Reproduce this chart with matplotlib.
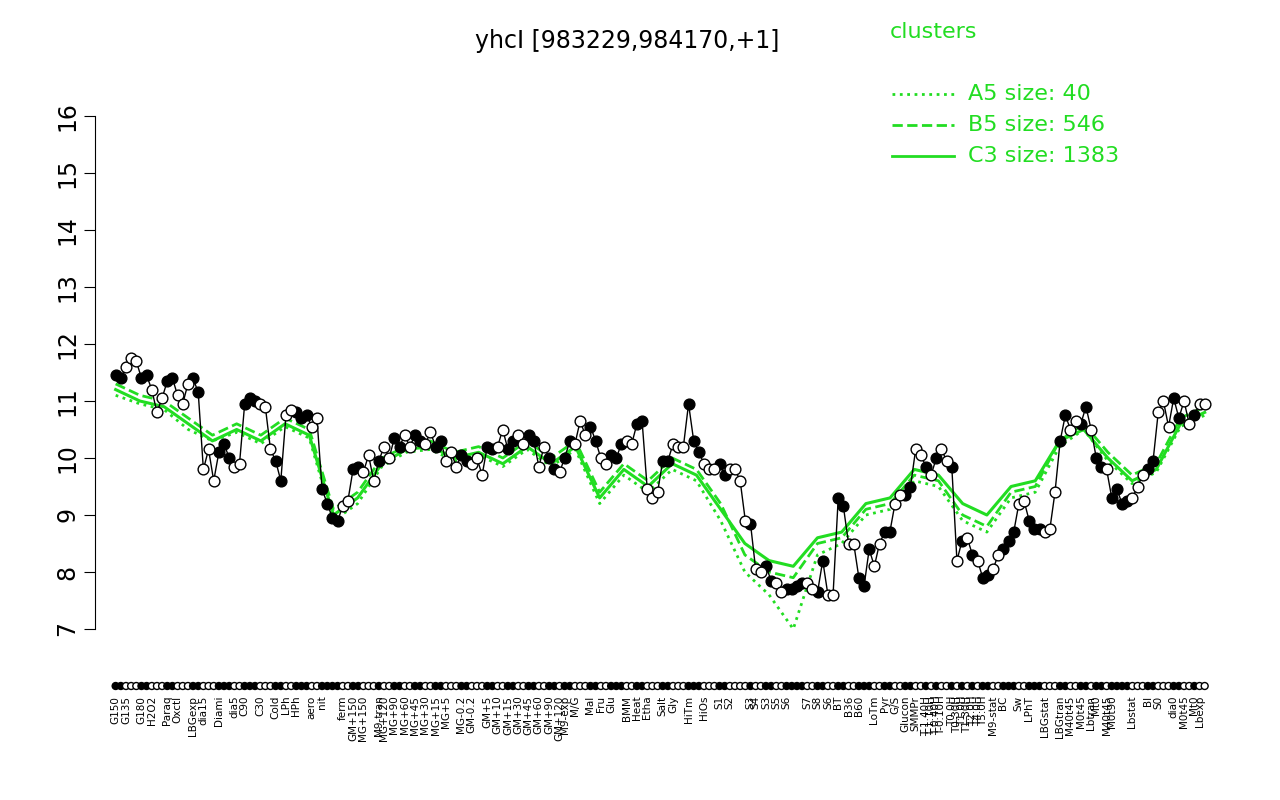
import numpy as np
import matplotlib.pyplot as plt

# (label, value) along the x axis; '' = no tick label
pts = [
("G150",11.45),("",11.4),("G135",11.6),("",11.75),("",11.7),("G180",11.4),("",11.45),
("H2O2",11.2),("",10.8),("",11.05),("Paraq",11.35),("",11.4),("Oxctl",11.1),("",10.95),
("",11.3),("LBGexp",11.4),("",11.15),("dia15",9.8),("",10.15),("",9.6),("Diami",10.1),
("",10.25),("",10.0),("dia5",9.85),("",9.9),("C90",10.95),("",11.05),("",11.0),
("C30",10.95),("",10.9),("",10.15),("Cold",9.95),("",9.6),("LPh",10.75),("",10.85),
("HPh",10.8),("",10.7),("",10.75),("aero",10.55),("",10.7),("nit",9.45),("",9.2),
("",8.95),("",8.9),("ferm",9.15),("",9.25),("GM+150",9.8),("",9.85),("MG+150",9.75),
("",10.05),("",9.6),("M9-tran",9.95),("MG+120",10.2),("",10.0),("MG+90",10.35),
("",10.2),("MG+60",10.4),("",10.2),("MG+45",10.4),("",10.3),("MG+30",10.25),("",10.45),
("MG+15",10.2),("",10.3),("MG+5",9.95),("",10.1),("",9.85),("MG-0.2",10.05),("",9.95),
("GM-0.2",9.9),("",10.0),("",9.7),("GM+5",10.2),("",10.15),("GM+10",10.2),("",10.5),
("GM+15",10.15),("",10.3),("GM+30",10.4),("",10.25),("GM+45",10.4),("",10.3),
("GM+60",9.85),("",10.2),("GM+90",10.0),("",9.8),("GM+120",9.75),("M9-exp",10.0),
("",10.3),("M/G",10.25),("",10.65),("",10.4),("Mal",10.55),("",10.3),("Fru",10.0),
("",9.9),("Glu",10.05),("",10.0),("",10.25),("BMM",10.3),("",10.25),("Heat",10.6),
("",10.65),("Etha",9.45),("",9.3),("",9.4),("Salt",9.95),("",9.95),("Gly",10.25),
("",10.2),("",10.2),("HiTm",10.95),("",10.3),("",10.1),("HiOs",9.9),("",9.8),("",9.8),
("S1",9.9),("",9.7),("S2",9.8),("",9.8),("",9.6),("",8.9),("S3",8.85),("S4",8.05),
("",8.0),("S3",8.1),("",7.85),("S5",7.8),("",7.65),("S6",7.7),("",7.7),("",7.75),
("",7.8),("S7",7.8),("",7.7),("S8",7.65),("",8.2),("S6",7.6),("",7.6),("BT",9.3),
("",9.15),("B36",8.5),("",8.5),("B60",7.9),("",7.75),("",8.4),("LoTm",8.1),("",8.5),
("Pyr",8.7),("",8.7),("G/S",9.2),("",9.35),("Glucon",9.35),("",9.5),("SMMPr",10.15),
("",10.05),("T-1.40H",9.85),("T-1.10H",9.7),("T-0.40H",10.0),("T-0.10H",10.15),
("",9.95),("T0.0H",9.85),("T0.30H",8.2),("T1.0H",8.55),("T1.30H",8.6),("T2.0H",8.3),
("T4.0H",8.2),("T5.0H",7.9),("",7.95),("M9-stat",8.05),("",8.3),("BC",8.4),("",8.55),
("",8.7),("Sw",9.2),("",9.25),("LPhT",8.9),("",8.75),("",8.75),("LBGstat",8.7),
("",8.75),("",9.4),("LBGtran",10.3),("",10.75),("M40t45",10.5),("",10.65),
("M0t45",10.6),("",10.9),("Lbtran",10.5),("Mt0",10.0),("",9.85),("M40t45",9.8),
("M0t90",9.3),("",9.45),("",9.2),("",9.25),("Lbstat",9.3),("",9.5),("",9.7),
("BI",9.8),("",9.95),("S0",10.8),("",11.0),("",10.55),("dia0",11.05),("",10.7),
("M0t45",11.0),("",10.6),("Mt0",10.75),("Lbexp",10.95),("",10.95),
]
labels = [p[0] for p in pts]
vals = [p[1] for p in pts]

# cluster means, sampled at evenly spaced fractions of the x range
c3 = [11.2,11.0,10.9,10.6,10.3,10.5,10.3,10.6,10.4,9.0,9.3,9.9,10.15,10.2,10.0,10.1,
      9.9,10.2,9.9,10.2,9.3,9.8,9.5,9.9,9.7,9.1,8.5,8.2,8.1,8.6,8.7,9.2,9.3,9.8,9.7,
      9.2,9.0,9.5,9.6,10.3,10.5,10.0,9.6,9.8,10.6,10.8]
b5 = [11.3,11.1,11.0,10.7,10.4,10.6,10.4,10.7,10.5,9.1,9.4,10.0,10.2,10.3,10.1,10.2,
      10.0,10.3,10.0,10.3,9.4,9.9,9.6,10.0,9.8,9.2,8.3,8.0,7.9,8.5,8.6,9.1,9.2,9.7,9.6,
      9.0,8.8,9.4,9.5,10.3,10.6,10.1,9.7,9.9,10.7,10.9]
a5 = [11.1,10.95,10.85,10.5,10.3,10.45,10.25,10.55,10.35,8.9,9.2,9.85,10.1,10.15,9.95,
      10.05,9.85,10.15,9.85,10.15,9.2,9.7,9.4,9.8,9.6,8.9,8.0,7.6,7.0,8.3,8.5,9.0,9.1,
      9.6,9.5,8.9,8.7,9.3,9.4,10.2,10.5,9.95,9.55,9.75,10.55,10.75]

n = len(vals)
x = np.arange(n)
green = '#22dd22'

fig = plt.figure(figsize=(12.8, 8), dpi=100)
ax = fig.add_axes([95/1280, 171/800, 1120/1280, 513/800])

cx = np.linspace(0, n - 1, len(c3))
ax.plot(cx, a5, ':', color=green, lw=2)
ax.plot(cx, b5, '--', color=green, lw=2)
ax.plot(cx, c3, '-', color=green, lw=2.2)

ax.plot(x, vals, '-', color='black', lw=1)
grp = np.cumsum([1 if l else 0 for l in labels])
filled = grp % 2 == 1
ax.scatter(x[filled], np.array(vals)[filled], s=60, facecolor='black', edgecolor='black', zorder=3)
ax.scatter(x[~filled], np.array(vals)[~filled], s=60, facecolor='white', edgecolor='black', zorder=3)
# rug of markers under the axis
ax.scatter(x, np.full(n, 6.0), s=25, facecolor=np.where(filled, 'black', 'white'),
           edgecolor='black', clip_on=False, zorder=3)

ax.set_xlim(-4, n + 1)
ax.set_ylim(7, 16)
ax.set_yticks(range(7, 17))
ax.set_yticklabels([str(v) for v in range(7, 17)], rotation=90, va='center', fontsize=17)
tick_idx = [i for i, l in enumerate(labels) if l]
ax.set_xticks(tick_idx)
ax.set_xticklabels([labels[i] for i in tick_idx], rotation=90, fontsize=7.5)
ax.tick_params(axis='x', length=0, pad=48)
ax.tick_params(axis='y', length=8)
for s in ['top', 'right', 'bottom']:
    ax.spines[s].set_visible(False)

fig.text(0.49, 0.94, 'yhcI [983229,984170,+1]', ha='center', fontsize=17)
fig.text(0.695, 0.953, 'clusters', color=green, fontsize=16)
for i, (ls, t) in enumerate([(':', 'A5 size: 40'), ('--', 'B5 size: 546'), ('-', 'C3 size: 1383')]):
    yy = 0.883 - i * 0.039
    fig.add_artist(plt.Line2D([0.697, 0.745], [yy, yy], ls=ls, color=green, lw=2))
    fig.text(0.756, yy, t, color=green, fontsize=16, va='center')

fig.savefig('out.png')
